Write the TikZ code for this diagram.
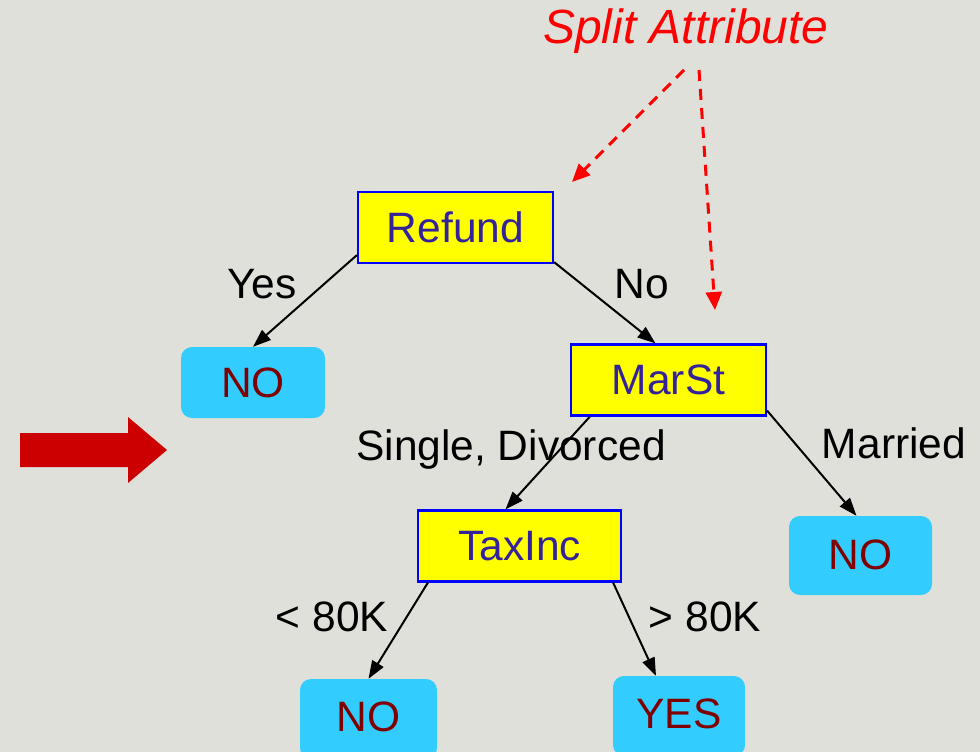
\documentclass[tikz,border=0pt]{standalone}
\usepackage{fontspec}
\setmainfont{Liberation Sans}
\usetikzlibrary{arrows.meta,calc}
\definecolor{bg}{RGB}{224,224,219}
\definecolor{testfill}{RGB}{255,255,0}
\definecolor{testdraw}{RGB}{0,0,255}
\definecolor{testtext}{RGB}{51,34,153}
\definecolor{leaffill}{RGB}{51,204,255}
\definecolor{leaftext}{RGB}{128,0,0}
\definecolor{bigarrow}{RGB}{204,0,0}
\definecolor{note}{RGB}{255,0,0}
\tikzset{
  testnode/.style={draw=testdraw, line width=2.2pt, fill=testfill, text=testtext,
    font=\fontsize{42.5}{46}\selectfont, minimum height=71pt, inner sep=0pt},
  leafnode/.style={fill=leaffill, rounded corners=11pt, text=leaftext,
    font=\fontsize{42.5}{46}\selectfont, inner sep=0pt},
  branch/.style={draw=black, line width=2pt,
    -{Triangle[length=18pt,width=13pt]}},
  branchlabel/.style={text=black, font=\fontsize{42.5}{46}\selectfont, inner sep=0pt},
  pointer/.style={draw=note, line width=3pt, dash pattern=on 11pt off 8pt,
    -{Triangle[length=18pt,width=16pt]}}
}
\begin{document}
\begin{tikzpicture}[x=1pt,y=-1pt]
\useasboundingbox (0,0) rectangle (980,752);
\fill[bg] (0,0) rectangle (980,752);

% decision nodes
\node[testnode, minimum width=195pt] (refund) at (455.5,227.5) {Refund};
\node[testnode, minimum width=195pt] (marst) at (668.5,380) {MarSt};
\node[testnode, minimum width=203pt] (taxinc) at (519.5,546) {TaxInc};

% leaves
\node[leafnode, minimum width=144pt, minimum height=71pt] (no1) at (253,382.5) {NO};
\node[leafnode, minimum width=143pt, minimum height=79pt] (no2) at (860.5,555.5) {\raisebox{2pt}{NO}};
\node[leafnode, minimum width=137pt, minimum height=80pt] (no3) at (368.5,719) {\raisebox{5pt}{NO}};
\node[leafnode, minimum width=132pt, minimum height=80pt] (yes) at (679,716) {\raisebox{4pt}{YES}};

% branches
\draw[branch] ($(refund.south west)+(0,-9)$) -- (no1.north);
\draw[branch] ($(refund.south east)+(0,-2)$) -- ($(marst.north)+(-13,0)$);
\draw[branch] ($(marst.south west)+(20,0)$) -- ($(taxinc.north)+(-14,0)$);
\draw[branch] ($(marst.south east)+(0,-6)$) -- ($(no2.north)+(-4,0)$);
\draw[branch] ($(taxinc.south west)+(11,0)$) -- (no3.north);
\draw[branch] ($(taxinc.south east)+(-9,0)$) -- ($(yes.north)+(-23,0)$);

% branch labels
\node[branchlabel] (lyes) at (262,284) {Yes};
\node[branchlabel] (lno) at (642,284) {No};
\node[branchlabel] (lsd) at (511,450) {Single, Divorced};
\node[branchlabel] (lmar) at (894,443) {Married};
\node[branchlabel] (llt) at (332,617) {< 80K};
\node[branchlabel] (lgt) at (705,617) {> 80K};

% annotation
\node[text=note, font=\fontsize{48}{52}\selectfont\itshape, inner sep=0pt] (split) at (686,31) {Split Attribute};
\coordinate (p1) at (684,70);
\coordinate (p2) at (699,70);
\coordinate (t1) at (572,182);
\coordinate (t2) at (715,310);
\draw[pointer] (p1) -- (t1);
\draw[pointer] (p2) -- (t2);

% current-step marker
\fill[bigarrow] (20,433) -- (128,433) -- (128,417) -- (167,450) -- (128,483) -- (128,467) -- (20,467) -- cycle;
\end{tikzpicture}
\end{document}
